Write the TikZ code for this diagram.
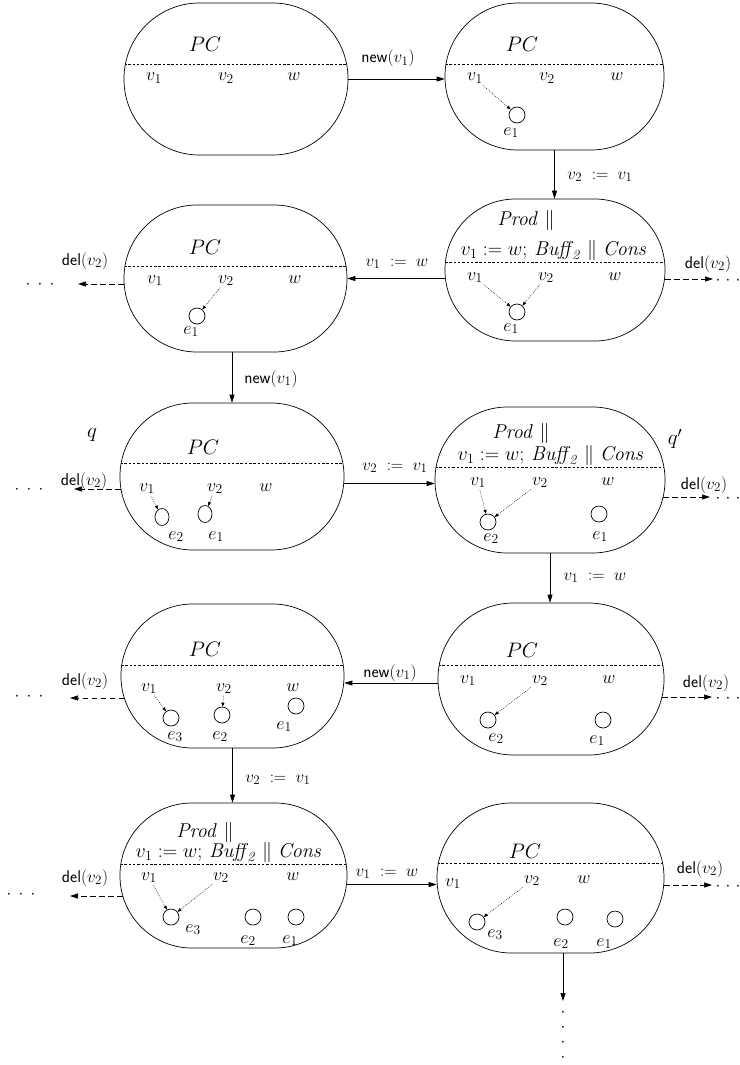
\RequirePackage{fix-cm}
\documentclass[tikz,border=0pt]{standalone}
\usetikzlibrary{arrows.meta,shapes.geometric,calc}
\DeclareMathSizes{18}{18}{13.5}{10}
\DeclareMathSizes{17}{17}{13}{9}
\tikzset{
  state/.style={draw, line width=0.7pt, inner sep=0pt},
  divider/.style={path picture={\draw[dash pattern=on 2.5pt off 1.8pt, line width=0.6pt]
      ([yshift=#1]path picture bounding box.west) -- ([yshift=#1]path picture bounding box.east);}},
  trans/.style={-{Triangle[length=8pt,width=5pt]}, line width=0.7pt},
  delarr/.style={-{Triangle[length=8pt,width=5pt]}, line width=0.7pt, dash pattern=on 5.5pt off 3.5pt},
  ptr/.style={-{Triangle[length=4pt,width=3pt]}, line width=0.5pt, dash pattern=on 0.8pt off 1.2pt, shorten <=1pt},
  circ/.style={circle, draw, line width=0.7pt, minimum size=16pt, inner sep=0pt},
  ell/.style={ellipse, draw, line width=0.7pt, minimum width=14pt, minimum height=17pt, inner sep=0pt},
  big/.style={font=\fontsize{21}{24}\selectfont, inner sep=0pt},
  prodt/.style={font=\fontsize{20}{24}\selectfont, inner sep=0pt},
  lab/.style={font=\fontsize{18}{20}\selectfont, inner sep=1pt, anchor=base},
  elab/.style={font=\fontsize{17}{19}\selectfont, inner sep=0pt, anchor=base},
  hdots/.style={font=\fontsize{17}{20}\selectfont, inner sep=0pt},
  rdots/.style={font=\fontsize{17}{20}\selectfont, inner sep=0pt, anchor=base},
}
\newcommand{\threedots}[1]{$\cdotp\hskip#1\cdotp\hskip#1\cdotp$}
\newcommand{\progline}{$v_1 := w;\,\mathit{Buff}_{\!\mathit{2}}\parallel\mathit{Cons}$}
\newcommand{\prodline}{$\mathit{Prod}\parallel$}
\begin{document}
\begin{tikzpicture}[x=1pt,y=-1pt]
\useasboundingbox (0,0) rectangle (739,1065);

% ---------- states ----------
\node[state, minimum width=224pt, minimum height=152pt, rounded corners=75.5pt, divider=15pt] (s1) at (236,79) {};
\node[state, minimum width=219pt, minimum height=147pt, rounded corners=73pt, divider=12.5pt] (s2) at (554.5,76.5) {};
\node[state, minimum width=220pt, minimum height=142pt, rounded corners=70.5pt, divider=8pt] (s3) at (555,270) {};
\node[state, minimum width=223pt, minimum height=147pt, rounded corners=73pt, divider=12.5pt] (s4) at (235.5,278.5) {};
\node[state, minimum width=224pt, minimum height=147pt, rounded corners=73pt, divider=13.5pt] (s5) at (232,476.5) {};
\node[state, minimum width=230pt, minimum height=146pt, rounded corners=72.5pt, divider=13pt] (s6) at (550,480) {};
\node[state, minimum width=226pt, minimum height=152pt, rounded corners=75.5pt, divider=14pt] (s7) at (551,679) {};
\node[state, minimum width=223pt, minimum height=144pt, rounded corners=71.5pt, divider=11pt] (s8) at (232.5,676) {};
\node[state, minimum width=227pt, minimum height=145pt, rounded corners=72pt, divider=11.5pt] (s9) at (233.5,875.5) {};
\node[state, minimum width=227pt, minimum height=150pt, rounded corners=74.5pt, divider=15pt] (s10) at (550.5,878) {};

% ---------- state 1 ----------
\node[big] (pc1) at (205,44) {$PC$};
\node[lab] (a1) at (154,81) {$v_1$};
\node[lab] (b1) at (226,81) {$v_2$};
\node[lab] (w1) at (294,81) {$w$};

% ---------- state 2 ----------
\node[big] (pc2) at (522,44) {$PC$};
\node[lab] (a2) at (475,81) {$v_1$};
\node[lab] (b2) at (547,81) {$v_2$};
\node[lab] (w2) at (617,81) {$w$};
\node[circ] (e21) at (517,115) {};
\node[lab] (t21) at (511,135) {$e_1$};
\draw[ptr] (a2) -- (e21);

% ---------- state 3 ----------
\node[prodt] (pr3) at (526,220) {\prodline};
\node[prodt] (pl3) at (554,250) {\progline};
\node[lab] (a3) at (475,280) {$v_1$};
\node[lab] (b3) at (546,280) {$v_2$};
\node[lab] (w3) at (615,280) {$w$};
\node[circ] (e31) at (517,312) {};
\node[lab] (t31) at (511,331) {$e_1$};
\draw[ptr] (a3) -- (e31);
\draw[ptr] (b3) -- (e31);

% ---------- state 4 ----------
\node[big] (pc4) at (205,247) {$PC$};
\node[lab] (a4) at (155,283) {$v_1$};
\node[lab] (b4) at (226,283) {$v_2$};
\node[lab] (w4) at (295,283) {$w$};
\node[circ] (e41) at (197,316) {};
\node[lab] (t41) at (191,334) {$e_1$};
\draw[ptr] (b4) -- (e41);

% ---------- state 5 (q) ----------
\node[big] (q) at (92,435) {$q$};
\node[big] (pc5) at (203,447) {$PC$};
\node[lab] (a5) at (147,491) {$v_1$};
\node[lab] (b5) at (215,491) {$v_2$};
\node[lab] (w5) at (266,491) {$w$};
\node[ell] (e52) at (162,517) {};
\node[ell] (e51) at (205,514) {};
\node[lab] (t52) at (176,539) {$e_2$};
\node[lab] (t51) at (216,539) {$e_1$};
\draw[ptr] (a5) -- (e52);
\draw[ptr] (b5) -- (e51);

% ---------- state 6 (q') ----------
\node[big] (qp) at (675,439) {$q'$};
\node[prodt] (pr6) at (521,433) {\prodline};
\node[prodt] (pl6) at (551,455) {\progline};
\node[lab] (a6) at (478,485) {$v_1$};
\node[lab] (b6) at (540,485) {$v_2$};
\node[lab] (w6) at (608,485) {$w$};
\node[circ] (e62) at (488,522) {};
\node[circ] (e61) at (599,514) {};
\node[lab] (t62) at (491,541) {$e_2$};
\node[lab] (t61) at (600,539) {$e_1$};
\draw[ptr] (a6) -- (e62);
\draw[ptr] (b6) -- (e62);

% ---------- state 7 ----------
\node[big] (pc7) at (522,650) {$PC$};
\node[lab] (a7) at (468,683) {$v_1$};
\node[lab] (b7) at (540,683) {$v_2$};
\node[lab] (w7) at (609,683) {$w$};
\node[circ] (e72) at (488,720) {};
\node[circ] (e71) at (603,720) {};
\node[lab] (t72) at (496,741) {$e_2$};
\node[lab] (t71) at (597,743) {$e_1$};
\draw[ptr] (b7) -- (e72);

% ---------- state 8 ----------
\node[big] (pc8) at (205,649) {$PC$};
\node[lab] (a8) at (149,691) {$v_1$};
\node[lab] (b8) at (224,691) {$v_2$};
\node[lab] (w8) at (293,691) {$w$};
\node[circ] (e83) at (171,718) {};
\node[circ] (e82) at (222,715) {};
\node[circ] (e81) at (296,706) {};
\node[lab] (t83) at (175,739) {$e_3$};
\node[lab] (t82) at (220,739) {$e_2$};
\node[lab] (t81) at (284,729) {$e_1$};
\draw[ptr] (a8) -- (e83);
\draw[ptr] (b8) -- (e82);

% ---------- state 9 ----------
\node[prodt] (pr9) at (205,832) {\prodline};
\node[prodt] (pl9) at (229,852) {\progline};
\node[lab] (a9) at (149,880) {$v_1$};
\node[lab] (b9) at (221,880) {$v_2$};
\node[lab] (w9) at (293,880) {$w$};
\node[circ] (e93) at (171,917) {};
\node[circ] (e92) at (253,917) {};
\node[circ] (e91) at (296,917) {};
\node[lab] (t93) at (193,932) {$e_3$};
\node[lab] (t92) at (248,943) {$e_2$};
\node[lab] (t91) at (290,943) {$e_1$};
\draw[ptr] (a9) -- (e93);
\draw[ptr] (b9) -- (e93);

% ---------- state 10 ----------
\node[big] (pc10) at (525,851) {$PC$};
\node[lab] (a10) at (453,886) {$v_1$};
\node[lab] (b10) at (532,883) {$v_2$};
\node[lab] (w10) at (584,883) {$w$};
\node[circ] (e103) at (477,922) {};
\node[circ] (e102) at (565,917) {};
\node[circ] (e101) at (615,919) {};
\node[lab] (t103) at (495,937) {$e_3$};
\node[lab] (t102) at (561,946) {$e_2$};
\node[lab] (t101) at (604,946) {$e_1$};
\draw[ptr] (b10) -- (e103);

% ---------- transitions ----------
\draw[trans] (s1.east) -- (s1.east -| s2.west);
\node[elab] (l1) at (388,63) {\textsf{new}$(v_1)$};
\draw[trans] (s2.south) -- (s2.south |- s3.north);
\node[elab] (l2) at (600,179) {$v_2\;:=\;v_1$};
\draw[trans] (s3.west |- s4.east) -- (s4.east);
\node[elab] (l3) at (397,266) {$v_1\;:=\;w$};
\draw[trans] (s4.south -| s5.north) -- (s5.north);
\node[elab] (l4) at (271,383) {\textsf{new}$(v_1)$};
\draw[trans] ([yshift=-7pt]s5.east) -- ([yshift=-7pt]s5.east -| s6.west);
\node[elab] (l5) at (395,470) {$v_2\;:=\;v_1$};
\draw[trans] (s6.south) -- (s6.south |- s7.north);
\node[elab] (l6) at (595,580) {$v_1\;:=\;w$};
\draw[trans] ([yshift=-4pt]s7.west) -- ([yshift=-4pt]s7.west -| s8.east);
\node[elab] (l7) at (390,677) {\textsf{new}$(v_1)$};
\draw[trans] (s8.south) -- (s8.south |- s9.north);
\node[elab] (l8) at (278,782) {$v_2\;:=\;v_1$};
\draw[trans] ([yshift=-9pt]s9.east) -- ([yshift=-9pt]s9.east -| s10.west);
\node[elab] (l9) at (387,876) {$v_1\;:=\;w$};
\coordinate (down) at (563,1001);
\draw[trans] (down |- s10.south) -- (down);
\node[font=\fontsize{17}{14.8}\selectfont, align=center, inner sep=0pt, anchor=north] (vd) at (563,1009)
  {$\cdotp$\\$\cdotp$\\$\cdotp$\\$\cdotp$};

% ---------- del arrows ----------
\coordinate (dl4) at (78,284);
\draw[delarr] (s4.west |- dl4) -- (dl4);
\node[elab] (d4) at (85,265) {\textsf{del}$(v_2)$};
\node[hdots] (x4) at (40,285) {\threedots{4.5pt}};
\coordinate (dr3) at (713,279);
\draw[delarr] (s3.east |- dr3) -- (dr3);
\node[elab] (d3) at (708,268) {\textsf{del}$(v_2)$};
\node[rdots] (y3) at (728,284) {\threedots{2.5pt}};

\coordinate (dl5) at (74,489);
\draw[delarr] ($(s5.west |- dl5)+(1,0)$) -- (dl5);
\node[elab] (d5) at (84,485) {\textsf{del}$(v_2)$};
\node[hdots] (x5) at (29,490) {\threedots{4.5pt}};
\coordinate (dr6) at (710,497);
\draw[delarr] ($(s6.east |- dr6)+(-2,0)$) -- (dr6);
\node[elab] (d6) at (704,489) {\textsf{del}$(v_2)$};
\node[rdots] (y6) at (728,502) {\threedots{2.5pt}};

\coordinate (dl8) at (70,698);
\draw[delarr] ($(s8.west |- dl8)+(3.5,0)$) -- (dl8);
\node[elab] (d8) at (85,685) {\textsf{del}$(v_2)$};
\node[hdots] (x8) at (29,697) {\threedots{4.5pt}};
\coordinate (dr7) at (712,697);
\draw[delarr] ($(s7.east |- dr7)+(-2.2,0)$) -- (dr7);
\node[elab] (d7) at (706,687) {\textsf{del}$(v_2)$};
\node[rdots] (y7) at (728,702) {\threedots{2.5pt}};

\coordinate (dl9) at (70,896);
\draw[delarr] ($(s9.west |- dl9)+(3,0)$) -- (dl9);
\node[elab] (d9) at (85,882) {\textsf{del}$(v_2)$};
\node[hdots] (x9) at (21,895) {\threedots{4.5pt}};
\coordinate (dr10) at (712,885);
\draw[delarr] (s10.east |- dr10) -- (dr10);
\node[elab] (d10) at (700,873) {\textsf{del}$(v_2)$};
\node[rdots] (y10) at (728,890) {\threedots{2.5pt}};
\end{tikzpicture}
\end{document}
